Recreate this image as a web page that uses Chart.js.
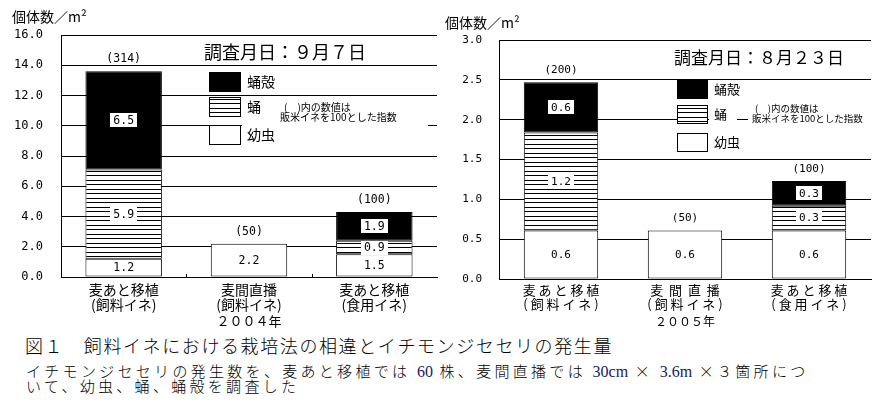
<!DOCTYPE html>
<html lang="ja">
<head>
<meta charset="UTF-8">
<title>飼料イネにおける栽培法の相違とイチモンジセセリの発生量</title>
<script src="https://cdn.jsdelivr.net/npm/chart.js"></script>
<style>
body { margin:0; background:#fff; width:881px; height:408px; overflow:hidden; position:relative;
       font-family:"Noto Sans CJK JP", sans-serif; color:#000; }
canvas { position:absolute; top:0; }
#c2004 { left:0; }
#c2005 { left:440px; }
.cap { position:absolute; left:22px; white-space:nowrap; line-height:1; font-weight:300; }
#fig { top:336px; left:25px; font-size:18px; letter-spacing:1.6px; }
#note1 { top:363px; left:26px; font-size:15px; letter-spacing:3.3px; }
#note2 { top:378px; left:26px; font-size:15px; letter-spacing:3.3px; }
.num { font-family:"Liberation Serif", serif; font-size:16px; color:#14206a; letter-spacing:0; font-weight:400; }
</style>
</head>
<body>
<canvas id="c2004" width="440" height="330"></canvas>
<canvas id="c2005" width="441" height="330"></canvas>
<div class="cap" id="fig">図１　飼料イネにおける栽培法の相違とイチモンジセセリの発生量</div>
<div class="cap" id="note1">イチモンジセセリの発生数を、麦あと移植では <span class="num">60</span> 株、麦間直播では <span class="num">30cm</span> × <span class="num">3.6m</span> ×３箇所につ</div>
<div class="cap" id="note2">いて、幼虫、蛹、蛹殻を調査した</div>
<script>
// 2004 (調査月日 9/7)
const categories2004 = [['麦あと移植', '(飼料イネ)'], ['麦間直播', '(飼料イネ)'], ['麦あと移植', '(食用イネ)']];
const larva2004 = [1.2, 2.2, 1.5];
const pupa2004 = [5.9, null, 0.9];
const shell2004 = [6.5, null, 1.9];
const index2004 = ['(314)', '(50)', '(100)'];

// 2005 (調査月日 8/23)
const categories2005 = [['麦 あ と 移 植', '( 飼 料 イ ネ )'], ['麦  間  直  播', '( 飼 料 イ ネ )'], ['麦 あ と 移 植', '( 食 用 イ ネ )']];
const larva2005 = [0.61, 0.61, 0.61];
const pupa2005 = [1.23, null, 0.31];
const shell2005 = [0.63, null, 0.31];
const index2005 = ['(200)', '(50)', '(100)'];

const legendNames = ['蛹殻', '蛹', '幼虫'];
const noteLines = ['(　)内の数値は', '販米イネを100とした指数'];

const JP = '"Noto Sans CJK JP", sans-serif';
const MONO = '"DejaVu Sans Mono", monospace';

// horizontal stripes for 蛹
function stripes() {
    const c = document.createElement('canvas');
    c.width = 8; c.height = 9;
    const g = c.getContext('2d');
    g.fillStyle = '#fff'; g.fillRect(0, 0, 8, 9);
    g.fillStyle = '#000'; g.fillRect(0, 0, 8, 1); g.fillRect(0, 4, 8, 1);
    return g.createPattern(c, 'repeat');
}

function decoPlugin(L) {
    return {
        id: 'deco',
        afterDatasetsDraw(chart) {
            const ctx = chart.ctx;
            ctx.save();
            ctx.textAlign = 'center';
            ctx.textBaseline = 'middle';
            ctx.font = L.numFont + 'px ' + MONO;
            const tops = [];
            chart.data.datasets.forEach((ds, d) => {
                chart.getDatasetMeta(d).data.forEach((bar, i) => {
                    const v = ds.data[i];
                    if (v == null) return;
                    const p = bar.getProps(['x', 'y', 'base'], true);
                    tops[i] = tops[i] == null ? p.y : Math.min(tops[i], p.y);
                    const t = v.toFixed(1);
                    const w = ctx.measureText(t).width + 6;
                    const cy = (p.y + p.base) / 2;
                    ctx.fillStyle = '#fff';
                    ctx.fillRect(Math.round(p.x - w / 2), Math.round(cy - 7), Math.round(w), 14);
                    ctx.fillStyle = '#000';
                    ctx.fillText(t, p.x, cy + 0.5);
                });
            });
            const xs = chart.scales.x;
            L.index.forEach((t, i) => {
                ctx.fillText(t, xs.getPixelForValue(i), tops[i] - 12);
            });
            ctx.restore();
        },
        afterDraw(chart) {
            const ctx = chart.ctx;
            const a = chart.chartArea;
            ctx.save();
            // small upward ticks at category boundaries
            if (L.catTicks) {
                const xs = chart.scales.x;
                ctx.strokeStyle = '#000'; ctx.lineWidth = 1;
                for (let i = 1; i < chart.data.labels.length; i++) {
                    const x = Math.round((xs.getPixelForValue(i - 1) + xs.getPixelForValue(i)) / 2) + 0.5;
                    ctx.beginPath(); ctx.moveTo(x, a.bottom); ctx.lineTo(x, a.bottom - 3); ctx.stroke();
                }
            }
            ctx.fillStyle = '#fff';
            L.masks.forEach(m => ctx.fillRect(m[0], m[1], m[2], m[3]));
            ctx.fillStyle = '#000';
            ctx.textBaseline = 'middle';
            // y title
            ctx.textAlign = 'left';
            ctx.font = '14px ' + JP;
            ctx.fillText('個体数／m²', L.yTitle[0], L.yTitle[1]);
            // date title
            ctx.textAlign = 'center';
            ctx.font = L.titleFont + 'px ' + JP;
            ctx.fillText(L.title, L.titlePos[0], L.titlePos[1]);
            // legend
            const fills = ['#000', chart.data.datasets[1].backgroundColor, '#fff'];
            ctx.textAlign = 'left';
            ctx.font = L.legFont + 'px ' + JP;
            legendNames.forEach((n, k) => {
                const y = L.legY[k];
                ctx.fillStyle = fills[k];
                ctx.fillRect(L.legX, y, L.legW, L.legH);
                ctx.strokeStyle = '#000'; ctx.lineWidth = 1;
                ctx.strokeRect(L.legX + 0.5, y + 0.5, L.legW - 1, L.legH - 1);
                ctx.fillStyle = '#000';
                ctx.fillText(n, L.legX + L.legW + 6, y + L.legH / 2);
            });
            ctx.font = L.noteFont + 'px ' + JP;
            noteLines.forEach((n, k) => ctx.fillText(n, L.note[k][0], L.note[k][1]));
            ctx.restore();
        }
    };
}

function makeChart(id, cats, larva, pupa, shell, yMax, step, L) {
    const pat = stripes();
    const common = { borderColor: '#000', borderWidth: 1, borderSkipped: false,
                     barPercentage: L.barPct, categoryPercentage: 1 };
    return new Chart(document.getElementById(id), {
        type: 'bar',
        data: {
            labels: cats,
            datasets: [
                Object.assign({ label: '幼虫', data: larva, backgroundColor: '#fff' }, common),
                Object.assign({ label: '蛹', data: pupa, backgroundColor: pat }, common),
                Object.assign({ label: '蛹殻', data: shell, backgroundColor: '#000' }, common)
            ]
        },
        options: {
            responsive: false,
            animation: false,
            layout: { padding: { top: L.top, right: L.right, left: 0, bottom: 0 } },
            plugins: { legend: { display: false }, tooltip: { enabled: false } },
            scales: {
                x: {
                    stacked: true,
                    grid: { display: false, drawTicks: false },
                    border: { display: true, color: '#000' },
                    ticks: { color: '#000', padding: L.xPad, maxRotation: 0, autoSkip: false,
                             font: { family: JP, size: L.xFont, lineHeight: 1.08 } },
                    title: { display: true, text: L.year, color: '#000',
                             font: { family: JP, size: L.yearFont, lineHeight: 1.2 },
                             padding: { top: 0, bottom: L.yearBottom } },
                    afterFit: s => { s.height = L.xHeight; }
                },
                y: {
                    stacked: true, min: 0, max: yMax,
                    grid: { color: '#000', lineWidth: 1, drawTicks: false },
                    border: { display: true, color: '#000' },
                    ticks: { stepSize: step, color: '#000', padding: L.yPad,
                             font: { family: MONO, size: L.yFont },
                             callback: v => v.toFixed(1) },
                    afterFit: s => { s.width = L.yWidth; }
                }
            }
        },
        plugins: [decoPlugin(L)]
    });
}

makeChart('c2004', categories2004, larva2004, pupa2004, shell2004, 16, 2, {
    top: 35, right: 3, yWidth: 61, xHeight: 53, xPad: 5, xFont: 14, year: '２００４年', yearFont: 13, yearBottom: 1,
    yPad: 18, yFont: 12, numFont: 11.5, barPct: 0.61, index: index2004, catTicks: true,
    title: '調査月日：９月７日', titleFont: 18, titlePos: [285, 52],
    legX: 209, legW: 32, legH: 20, legY: [72, 97, 125], legFont: 14,
    noteFont: 10, note: [[284, 107], [280, 117]],
    masks: [[242, 100, 186, 46]],
    yTitle: [12, 17]
});

makeChart('c2005', categories2005, larva2005, pupa2005, shell2005, 3, 0.5, {
    top: 40, right: 10, yWidth: 59, xHeight: 51, xPad: 4, xFont: 13, year: '２００５年', yearFont: 12, yearBottom: 1,
    yPad: 17, yFont: 11, numFont: 11, barPct: 0.6, index: index2005, catTicks: false,
    title: '調査月日：８月２３日', titleFont: 17, titlePos: [319, 58],
    legX: 237, legW: 31, legH: 19, legY: [80, 105, 133], legFont: 13,
    noteFont: 9.5, note: [[315, 108], [312, 118]],
    masks: [[269, 104, 28, 20], [308, 100, 123, 24]],
    yTitle: [5, 23]
});
</script>
</body>
</html>
